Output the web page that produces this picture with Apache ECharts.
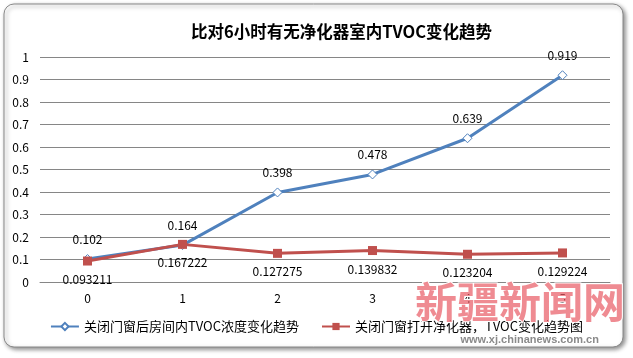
<!DOCTYPE html>
<html><head><meta charset="utf-8">
<script src="https://cdn.jsdelivr.net/npm/echarts@6/dist/echarts.min.js"></script>
<style>html,body{margin:0;padding:0;background:#fff}#c{width:633px;height:358px}</style>
</head><body><div id="c"></div>
<script>
var categories = ['0','1','2','3','4','5'];
var seriesNames = ['关闭门窗后房间内TVOC浓度变化趋势','关闭门窗打开净化器，TVOC变化趋势图'];
var closedValues = [0.102, 0.164, 0.398, 0.478, 0.639, 0.919];
var purifierValues = [0.093211, 0.167222, 0.127275, 0.139832, 0.123204, 0.129224];
var yTicks = [0, 0.1, 0.2, 0.3, 0.4, 0.5, 0.6, 0.7, 0.8, 0.9, 1];
var titleText = '比对6小时有无净化器室内TVOC变化趋势';

var font = '"Noto Sans CJK SC", "DejaVu Sans", sans-serif';
var chart = echarts.init(document.getElementById('c'), null, {renderer:'canvas'});
chart.setOption({
  backgroundColor: '#fff',
  animation: false,
  title: {text: titleText, left: 186, top: 18,
    textStyle: {fontFamily: font, fontSize: 16.5, fontWeight: 'bold', color: '#000'}},
  graphic: [
    {type:'rect', z:-10, shape:{x:4, y:4, width:619, height:343, r:10},
     style:{fill:'#fff', stroke:'#8a8a8a', lineWidth:1, shadowBlur:4, shadowOffsetX:2, shadowOffsetY:2, shadowColor:'rgba(0,0,0,0.45)'}},
    {type:'text', z:50, left:414, top:280,
     style:{text:'新疆新闻网', font:'bold 42px "Noto Sans CJK SC"', fill:'rgba(232,90,100,0.7)', stroke:'#fff', lineWidth:2}},
    {type:'text', z:50, left:460, top:334,
     style:{text:'www.xj.chinanews.com.cn', font:'bold 11px "Liberation Sans"', fill:'#8a8a8a', stroke:'#fff', lineWidth:1}}
  ],
  legend: {bottom: 20, left: 'center', itemWidth: 28, itemHeight: 9, itemGap: 22,
    textStyle: {fontFamily: font, fontSize: 13, color: '#000'},
    data: seriesNames},
  grid: {left: 40, right: 23, top: 57, bottom: 76},
  xAxis: {type:'category', data: categories, boundaryGap: true,
    axisLine:{show:true, lineStyle:{color:'#868686'}}, axisTick:{show:false},
    axisLabel:{color:'#000', fontFamily: font, fontSize: 12, margin: 10}},
  yAxis: {type:'value', min: yTicks[0], max: yTicks[yTicks.length-1], interval: 0.1,
    axisLine:{show:false}, axisTick:{show:false},
    axisLabel:{color:'#000', fontFamily: font, fontSize: 12, margin: 11,
      formatter: function(v){ return String(Math.round(v*10)/10); }},
    splitLine:{lineStyle:{color:'#868686', width:1}}},
  series: [
    {name: seriesNames[0], type:'line', data: closedValues,
     symbol:'diamond', symbolSize: 9, showAllSymbol: true,
     lineStyle:{color:'#4F81BD', width:3},
     itemStyle:{color:'#fff', borderColor:'#4F81BD', borderWidth:1},
     label:{show:true, position:'top', distance: 9, color:'#000', fontFamily: font, fontSize: 12}},
    {name: seriesNames[1], type:'line', data: purifierValues,
     symbol:'rect', symbolSize: 9,
     lineStyle:{color:'#C0504D', width:3},
     itemStyle:{color:'#C0504D'},
     label:{show:true, position:'bottom', distance: 8, color:'#000', fontFamily: font, fontSize: 12,
       formatter: function(p){ return String(p.value); }}}
  ]
});
</script></body></html>
